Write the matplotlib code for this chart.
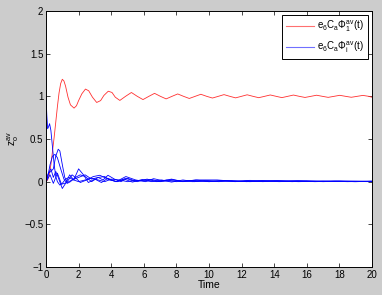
import matplotlib
matplotlib.use('Agg')
import matplotlib.pyplot as plt
from matplotlib.lines import Line2D

# ── data ────────────────────────────────────────
red_t = [0, 0.1, 0.2, 0.3, 0.4, 0.5, 0.6, 0.7, 0.8, 0.9, 1.0, 1.1, 1.2, 1.35,
         1.5, 1.72, 1.87, 2.0, 2.2, 2.42, 2.62, 2.85, 3.11, 3.35, 3.55, 3.82, 4.05,
         4.25, 4.53, 4.88, 5.24, 5.6, 5.95, 6.31, 6.66, 7.02, 7.37, 7.73, 8.08,
         8.44, 8.79, 9.15, 9.5, 9.86, 10.21, 10.57, 10.92, 11.28, 11.63, 11.99,
         12.34, 12.7, 13.05, 13.41, 13.76, 14.12, 14.47, 14.83, 15.18, 15.54,
         15.89, 16.25, 16.6, 16.96, 17.31, 17.67, 18.02, 18.38, 18.73, 19.09,
         19.44, 19.8, 20]
red_y = [0, 0.02, 0.08, 0.2, 0.36, 0.52, 0.7, 0.88, 1.04, 1.15, 1.2, 1.18, 1.12,
         0.99, 0.9, 0.862, 0.89, 0.95, 1.03, 1.085, 1.065, 0.99, 0.928, 0.95, 1.01,
         1.06, 1.045, 0.99, 0.952, 1.0, 1.045, 1.0, 0.962, 1.0, 1.035, 1.0, 0.97,
         1.0, 1.028, 1.0, 0.975, 1.0, 1.024, 1.0, 0.98, 1.0, 1.02, 1.0, 0.982, 1.0,
         1.018, 1.0, 0.984, 1.0, 1.016, 1.0, 0.985, 1.0, 1.015, 1.0, 0.987, 1.0,
         1.013, 1.0, 0.988, 1.0, 1.012, 1.0, 0.989, 1.0, 1.011, 1.0, 0.99]

b1_t = [0, 0.05, 0.1, 0.15, 0.22, 0.3, 0.4, 0.5, 0.6, 0.7, 0.85, 1.0, 1.2, 1.4,
        1.7, 2.0, 2.4, 2.8, 3.2, 3.6, 4.0, 4.5, 5.0, 5.5, 6.0, 7.0, 8.0, 9.0,
        10.0, 12.0, 14.0, 16.0, 18.0, 20.0]
b1_y = [1.0, 0.78, 0.62, 0.64, 0.68, 0.6, 0.4, 0.2, 0.06, 0.0, -0.04, -0.02,
        0.03, 0.05, 0.02, 0.0, 0.02, 0.04, 0.02, 0.0, 0.03, 0.02, 0.0, 0.015,
        0.01, 0.005, 0.01, 0.0, 0.008, 0.003, 0.005, 0.002, 0.004, 0.0]

b2_t = [0, 0.15, 0.3, 0.45, 0.6, 0.75, 0.85, 1.0, 1.15, 1.3, 1.45, 1.6, 1.8,
        2.1, 2.5, 2.9, 3.3, 3.8, 4.3, 4.9, 5.5, 6.1, 6.6, 7.2, 7.7, 8.3, 9.3,
        10.5, 11.5, 12.5, 14.0, 15.5, 17.0, 18.5, 20.0]
b2_y = [0, 0.1, 0.12, 0.15, 0.3, 0.38, 0.36, 0.2, 0.05, 0.0, 0.04, 0.08, 0.05,
        -0.01, 0.02, 0.06, 0.075, 0.03, 0.0, 0.06, 0.02, 0.0, 0.035, 0.01, 0.03,
        0.005, 0.02, 0.02, 0.005, 0.015, 0.01, 0.012, 0.005, 0.008, 0.005]

b3_t = [0, 0.1, 0.25, 0.4, 0.55, 0.7, 0.9, 1.1, 1.3, 1.5, 1.8, 2.1, 2.4, 2.8,
        3.2, 3.5, 3.8, 4.2, 4.6, 5.0, 5.6, 6.2, 6.8, 7.4, 8.0, 9.0, 10.0, 11.0,
        12.5, 14.0, 15.5, 17.0, 18.5, 20.0]
b3_y = [0, 0.05, 0.2, 0.3, 0.32, 0.28, 0.15, 0.03, -0.02, 0.0, 0.05, 0.08,
        0.06, 0.0, 0.05, 0.02, 0.075, 0.03, 0.0, 0.04, 0.0, 0.03, 0.0, 0.02,
        0.0, 0.015, 0.0, 0.012, 0.0, 0.01, 0.0, 0.008, 0.0, 0.005]

b4_t = [0, 0.15, 0.3, 0.45, 0.6, 0.75, 1.0, 1.2, 1.45, 1.7, 2.0, 2.3, 2.6,
        3.0, 3.4, 3.8, 4.3, 4.8, 5.3, 5.9, 6.5, 7.1, 7.7, 8.4, 9.1, 9.8, 10.6,
        11.4, 12.3, 13.3, 14.3, 15.4, 16.5, 17.7, 18.9, 20.0]
b4_y = [0, 0.1, 0.15, 0.05, 0.12, 0.05, -0.08, -0.02, 0.08, 0.02, 0.15, 0.08,
        -0.01, 0.03, -0.01, 0.04, 0.0, 0.03, -0.005, 0.025, 0.0, 0.02, -0.005,
        0.02, 0.0, 0.015, 0.0, 0.012, 0.0, 0.01, 0.0, 0.008, 0.0, 0.006, 0.0,
        0.004]

b5_t = [0, 0.25, 0.45, 0.7, 0.95, 1.3, 1.6, 2.0, 2.4, 2.8, 3.2, 3.6, 3.9, 4.4,
        4.9, 5.4, 6.0, 6.5, 7.0, 7.7, 8.4, 9.2, 10.0, 10.8, 11.6, 12.4, 13.3,
        14.2, 15.1, 16.0, 17.0, 18.0, 19.0, 20.0]
b5_y = [0, 0.08, -0.02, 0.1, -0.03, -0.01, 0.02, 0.05, 0.08, 0.03, 0.05, 0.06,
        0.02, 0.0, 0.04, 0.005, 0.02, 0.025, 0.0, 0.025, 0.0, 0.02, 0.0, 0.015,
        0.0, 0.012, 0.0, 0.01, 0.0, 0.008, 0.0, 0.006, 0.0, 0.004]

blue_curves = [(b1_t, b1_y), (b2_t, b2_y), (b3_t, b3_y), (b4_t, b4_y), (b5_t, b5_y)]

x_ticks = list(range(0, 21, 2))
y_ticks = [-1, -0.5, 0, 0.5, 1, 1.5, 2]
y_tick_labels = ['\u22121', '\u22120.5', '0', '0.5', '1', '1.5', '2']
legend_labels = [r'$e_6C_a\Phi_1^{av}(t)$', r'$e_6C_a\Phi_i^{av}(t)$']

# ── style ───────────────────────────────────────
plt.rcParams['font.family'] = ['Liberation Sans', 'DejaVu Sans']
plt.rcParams['mathtext.default'] = 'regular'
plt.rcParams['font.size'] = 7

fig = plt.figure(figsize=(3.82, 2.95), dpi=100, facecolor='#cccccc')
ax = fig.add_axes([46 / 382, 28 / 295, 326 / 382, 256 / 295])
ax.set_facecolor('white')

ax.plot(red_t, red_y, color='#ff3030', linewidth=0.6)
for t, y in blue_curves:
    ax.plot(t, y, color='#0000ff', linewidth=0.6)

ax.set_xlim(0, 20)
ax.set_ylim(-1, 2)
ax.set_xticks(x_ticks)
ax.set_yticks(y_ticks)
ax.set_yticklabels(y_tick_labels)
ax.tick_params(direction='in', length=3, width=0.5, top=True, right=True,
               pad=2, labelsize=7)
for s in ax.spines.values():
    s.set_linewidth(0.7)

ax.set_xlabel('Time', fontsize=7.5, labelpad=0)
ax.set_ylabel(r'$z_o^{av}$', fontsize=7.5, labelpad=2)

handles = [Line2D([], [], color='#ff7070', linewidth=0.8),
           Line2D([], [], color='#7070ff', linewidth=0.8)]
leg = ax.legend(handles, legend_labels, loc='upper right', fontsize=7,
                fancybox=False, framealpha=1, edgecolor='black',
                handlelength=2.9, borderaxespad=0.4, borderpad=0.4,
                labelspacing=0.6, handletextpad=0.3)
leg.get_frame().set_linewidth(0.7)

plt.savefig('out.png', dpi=100, facecolor=fig.get_facecolor())
plt.close()
